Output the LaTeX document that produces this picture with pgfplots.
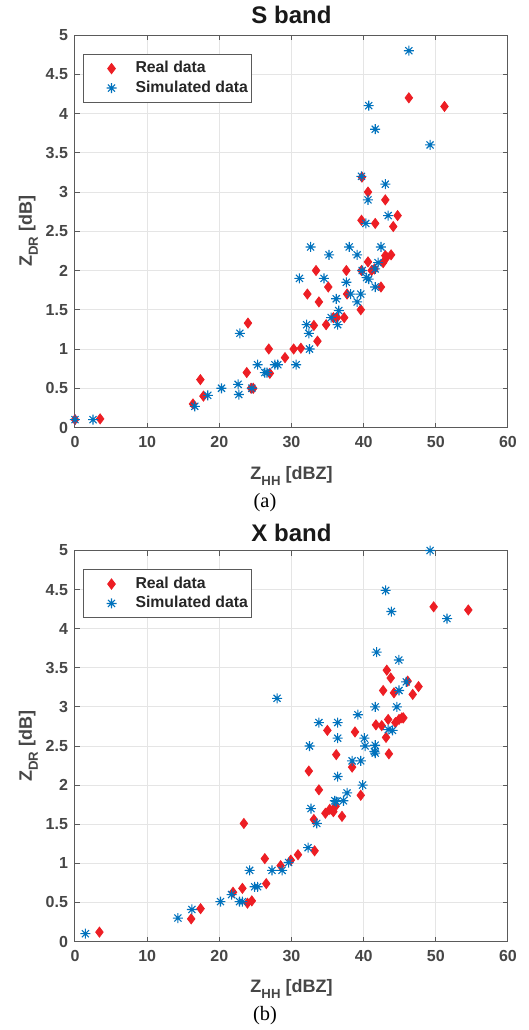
\documentclass[border=0pt]{standalone}
\usepackage{fontspec}
\setmainfont{Liberation Sans}
\newfontfamily\timesfont{Liberation Serif}
\usepackage{pgfplots}
\pgfplotsset{compat=1.18}
\definecolor{mred}{RGB}{237,30,36}
\definecolor{mblue}{RGB}{0,114,189}
\definecolor{axgray}{RGB}{90,90,90}
\definecolor{txtgray}{RGB}{70,70,70}
\newcommand\lsub[1]{\raisebox{-3pt}{\fontsize{6.6}{7}\selectfont #1}}
\pgfdeclareplotmark{mstar}{%
 \pgfpathmoveto{\pgfqpoint{-\pgfplotmarksize}{0pt}}\pgfpathlineto{\pgfqpoint{\pgfplotmarksize}{0pt}}%
 \pgfpathmoveto{\pgfqpoint{0pt}{-\pgfplotmarksize}}\pgfpathlineto{\pgfqpoint{0pt}{\pgfplotmarksize}}%
 \pgfpathmoveto{\pgfqpoint{-.707\pgfplotmarksize}{-.707\pgfplotmarksize}}\pgfpathlineto{\pgfqpoint{.707\pgfplotmarksize}{.707\pgfplotmarksize}}%
 \pgfpathmoveto{\pgfqpoint{-.707\pgfplotmarksize}{.707\pgfplotmarksize}}\pgfpathlineto{\pgfqpoint{.707\pgfplotmarksize}{-.707\pgfplotmarksize}}%
 \pgfusepathqstroke}
\pgfplotsset{
  mystyle/.style={
    scale only axis, width=216.5pt,
    xmin=0, xmax=60, ymin=0, ymax=5,
    xtick={0,10,...,60}, ytick={0,0.5,...,5},
    grid=major, major grid style={color=black!10, line width=0.5pt},
    axis line style={color=axgray, line width=0.5pt},
    major tick style={color=axgray, line width=0.5pt},
    major tick length=2.5pt,
    tick align=inside,
    clip=false,
    /pgf/number format/assume math mode=true,
    tick label style={font=\bfseries\fontsize{8}{9}\selectfont, color=txtgray},
    xticklabel style={yshift=-1pt},
    xlabel={Z\lsub{HH} [dBZ]},
    ylabel={Z\lsub{DR} [dB]},
    label style={font=\bfseries\fontsize{9}{10}\selectfont, color=txtgray},
    xlabel style={at={(axis description cs:0.5,-0.08)}, anchor=north},
    ylabel style={at={(axis description cs:-0.108,0.5)}, anchor=center},
    every axis title shift=0pt,
    title style={font=\bfseries\fontsize{12}{13}\selectfont, color=black!90, anchor=base, yshift=0pt},
    legend style={at={(0.0185,0.952)}, anchor=north west, draw=axgray, line width=0.5pt,
      font=\bfseries\fontsize{7.9}{9}\selectfont, text=black!85, inner xsep=0pt, inner ysep=1.5pt,
      row sep=-1.5pt, column sep=0pt},
    legend cell align=left,
    legend image code/.code={\path[draw=none,fill=none] (0pt,0pt) -- (24pt,0pt); \draw[#1] plot coordinates {(14pt,0pt)};},
    realstyle/.style={only marks, mark=diamond*, mark size=2.5pt, color=mred, fill=mred},
    simstyle/.style={only marks, mark=mstar, mark size=2.5pt, color=mblue, mark options={line width=0.55pt}},
  }
}
\begin{document}
\begin{tikzpicture}
\path[use as bounding box] (0,0) rectangle (264.5pt,-515pt);
\begin{axis}[mystyle, height=196.25pt, at={(37.5pt,-213.75pt)}, anchor=south west, title={S band},
  title style={at={(0.5,1.0306)}}]
\addplot[realstyle] coordinates {
(0,0.1)(3.48,0.11)(16.35,0.30)(17.37,0.61)(17.8,0.40)(23.8,0.70)(23.97,1.33)(24.4,0.50)(24.7,0.50)
(26.85,1.0)(27.0,0.69)(29.1,0.89)(30.3,1.0)(31.3,1.01)(32.2,1.70)(33.1,1.30)(33.4,2.0)(33.6,1.10)
(33.8,1.60)(34.8,1.31)(35.1,1.79)(35.8,1.40)(36.3,1.40)(37.3,1.40)(37.6,2.0)(37.7,1.70)(39.6,1.50)
(39.7,2.64)(39.7,2.0)(39.76,3.19)(40.6,3.0)(40.6,2.11)(41.1,2.0)(41.5,2.02)(41.6,2.60)(42.4,1.79)
(42.7,2.1)(43.0,2.90)(43.0,2.19)(43.2,2.17)(43.8,2.20)(44.1,2.56)(44.7,2.70)(46.26,4.2)(51.2,4.09)
};
\addlegendentry{Real data}
\addplot[simstyle] coordinates {
(0,0.1)(2.5,0.1)(16.6,0.27)(18.4,0.41)(20.3,0.50)(22.6,0.55)(22.7,0.42)(22.85,1.20)(24.5,0.50)
(25.3,0.80)(26.3,0.70)(26.6,0.70)(27.7,0.80)(28.1,0.80)(30.65,0.80)(31.1,1.90)(32.1,1.31)(32.4,1.20)
(32.5,1.0)(32.65,2.30)(34.5,1.90)(35.2,2.20)(35.5,1.40)(36.2,1.64)(36.4,1.31)(36.55,1.49)(37.6,1.85)
(38.0,2.30)(38.2,1.70)(39.1,2.20)(39.1,1.60)(39.6,1.70)(39.8,2.0)(40.3,2.60)(40.4,1.91)(40.7,1.89)
(41.6,1.79)(41.6,2.02)(42.0,2.10)(42.4,2.30)(43.4,2.70)(43.0,3.10)(40.6,2.90)(39.7,3.20)(41.6,3.80)
(40.7,4.10)(46.26,4.80)(49.2,3.60)
};
\addlegendentry{Simulated data}
\end{axis}
\node[font=\timesfont\fontsize{10.2}{12}\selectfont, anchor=center] at (132.5pt,-251.5pt) {(a)};
\begin{axis}[mystyle, height=195.5pt, at={(37.5pt,-470.75pt)}, anchor=south west, title={X band},
  title style={at={(0.5,1.0243)}}]
\addplot[realstyle] coordinates {
(3.39,0.12)(16.1,0.29)(17.4,0.42)(21.9,0.63)(23.2,0.68)(23.4,1.51)(23.9,0.49)(24.5,0.52)(26.3,1.06)
(26.5,0.74)(28.5,0.97)(29.9,1.04)(30.9,1.11)(32.4,2.18)(33.1,1.56)(33.2,1.16)(33.8,1.94)(34.7,1.64)
(34.97,2.70)(35.3,1.69)(35.8,1.66)(36.1,1.73)(36.2,2.39)(37.0,1.60)(38.4,2.23)(38.8,2.68)(39.6,1.87)
(41.7,2.77)(42.5,2.76)(42.7,3.21)(43.1,2.61)(43.2,3.47)(43.4,2.84)(43.5,2.40)(43.75,3.37)(44.2,3.18)
(44.4,2.80)(44.9,2.84)(45.3,2.86)(45.5,2.86)(46.1,3.33)(46.8,3.16)(47.6,3.26)(49.7,4.28)(54.5,4.24)
};
\addlegendentry{Real data}
\addplot[simstyle] coordinates {
(1.44,0.10)(14.26,0.30)(16.2,0.41)(20.16,0.51)(21.7,0.60)(22.8,0.51)(23.2,0.51)(24.2,0.91)(24.9,0.70)
(25.3,0.70)(27.3,0.91)(28.0,3.11)(28.7,0.91)(29.6,1.01)(32.3,1.20)(32.5,2.50)(32.7,1.70)(33.5,1.51)
(33.8,2.80)(36.0,1.80)(36.2,1.79)(36.4,2.80)(36.4,2.60)(36.4,2.11)(37.2,1.80)(37.7,1.90)(38.4,2.31)
(39.2,2.90)(39.6,2.31)(39.85,2.0)(40.1,2.60)(40.2,2.50)(41.6,3.0)(41.6,2.51)(41.6,2.41)(41.5,2.43)
(41.8,3.70)(43.4,2.71)(44.0,2.70)(44.6,3.0)(44.9,3.21)(44.87,3.60)(45.9,3.32)(43.05,4.49)(43.85,4.22)
(49.2,5.0)(51.55,4.13)
};
\addlegendentry{Simulated data}
\end{axis}
\node[font=\timesfont\fontsize{10.2}{12}\selectfont, anchor=center] at (132.5pt,-508pt) {(b)};
\end{tikzpicture}
\end{document}
